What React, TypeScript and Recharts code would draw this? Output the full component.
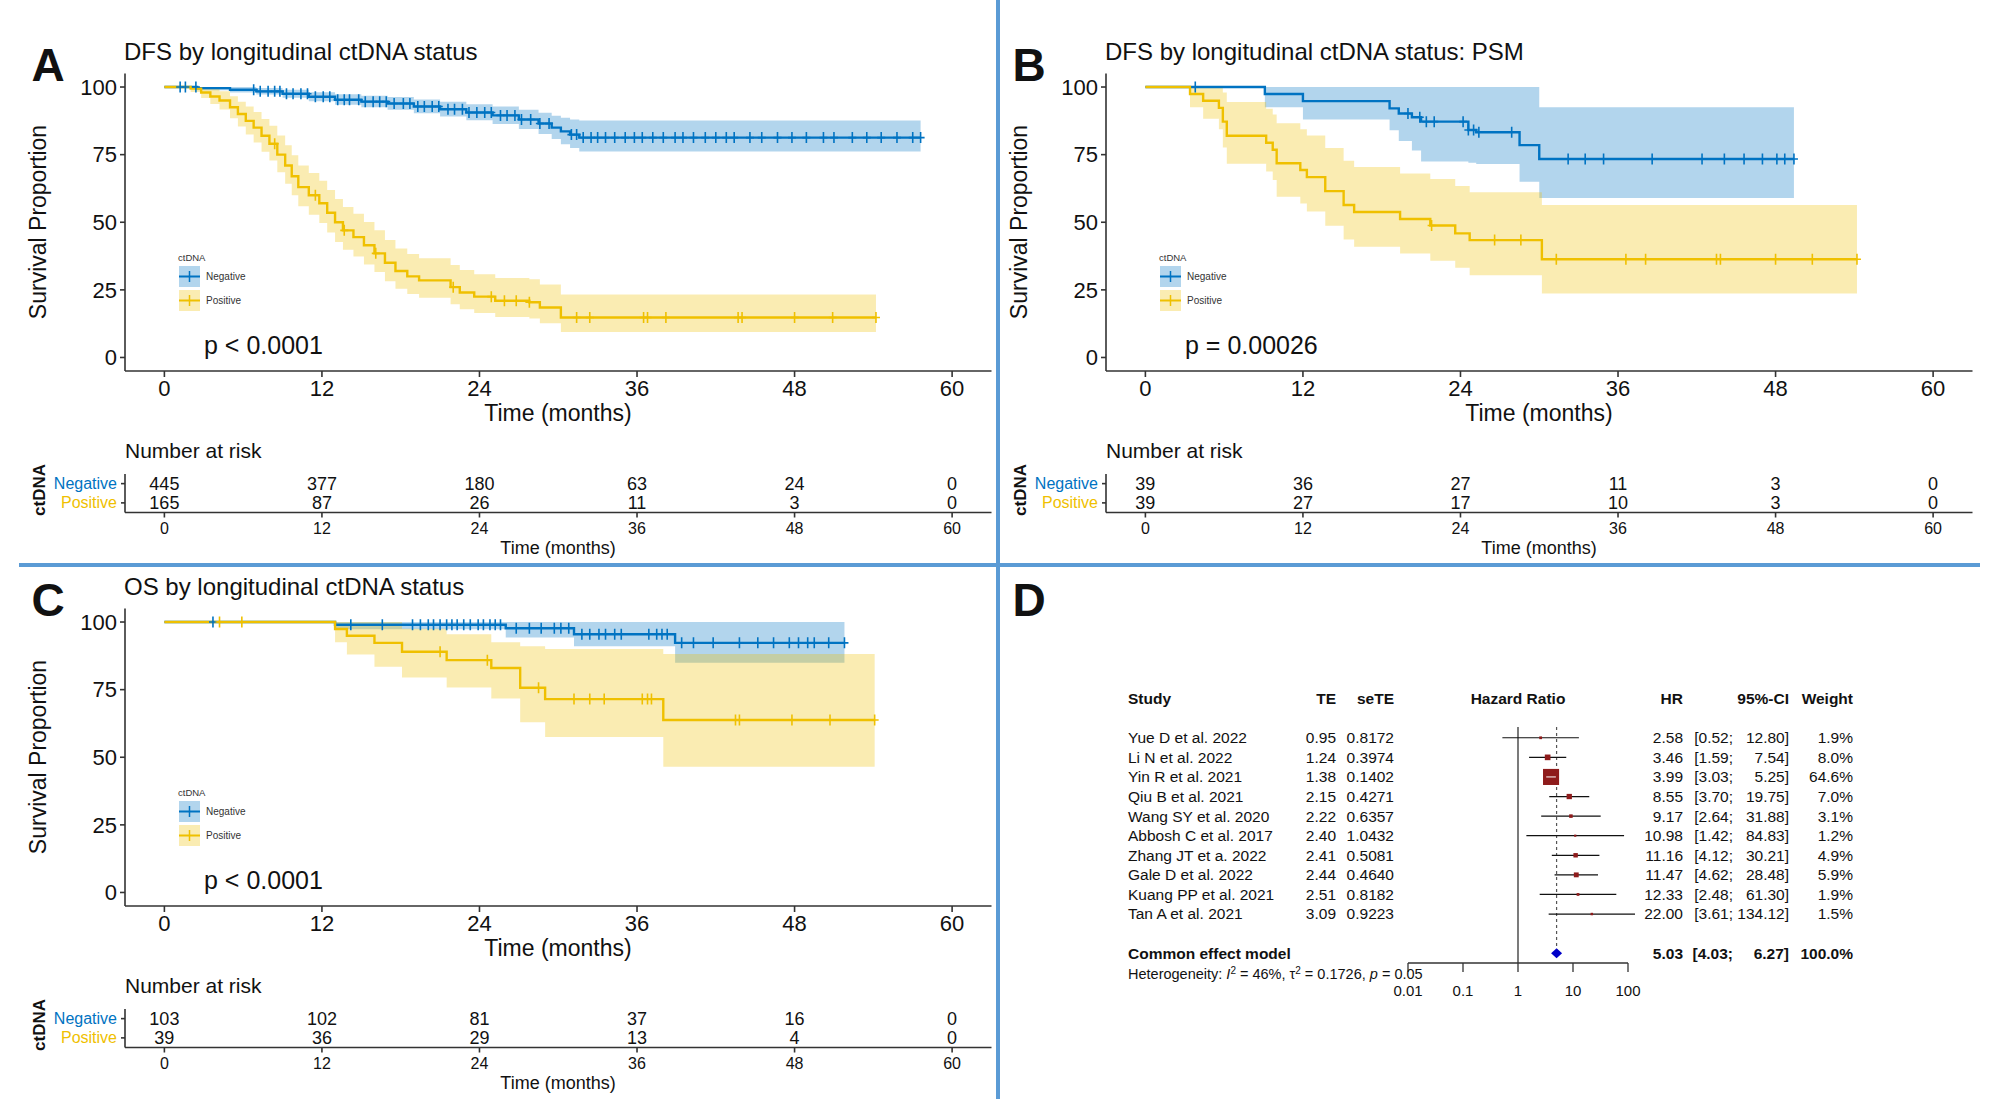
import React from 'react';
import {
  ComposedChart,
  ScatterChart,
  Area,
  Line,
  Scatter,
  XAxis,
  YAxis,
  ErrorBar,
  ReferenceLine
} from 'recharts';

const FONT = "'Liberation Sans', Arial, Helvetica, sans-serif";
const BLUE = '#0073C2';
const YELLOW = '#EFC000';
const AXIS = '#333333';
const INK = '#111111';
const DIVIDER = '#5B9BD5';

const groups = ['Negative', 'Positive'];
const groupColors = [BLUE, YELLOW];
const monthTicks = [0, 12, 24, 36, 48, 60];
const survTicks = [0, 25, 50, 75, 100];

// KM steps: [time, survival %, lower 95%, upper 95%]
const dfsNeg = [
  [0, 100, 100, 100], [2.5, 99.6, 98.8, 100], [5, 99.0, 98.0, 100], [7, 98.4, 97.2, 99.6],
  [9, 97.5, 96.0, 99.0], [11, 96.4, 94.7, 98.1], [13, 95.3, 93.4, 97.3], [15, 94.6, 92.5, 96.8],
  [17, 93.9, 91.6, 96.3], [19, 92.8, 90.3, 95.4], [21, 91.8, 89.1, 94.6], [23, 90.6, 87.7, 93.6],
  [25, 89.5, 86.3, 92.8], [27, 88.0, 84.5, 91.6], [28.5, 86.5, 82.6, 90.5], [29.5, 85.0, 80.8, 89.4],
  [30.2, 83.6, 78.8, 88.6], [30.9, 82.4, 77.5, 88.0], [31.6, 81.3, 76.2, 87.6], [57.6, 81.3, 76.2, 87.6]
];
const dfsPos = [
  [0, 100, 100, 100], [2, 99.4, 98.2, 100], [2.8, 98.0, 95.9, 100], [3.5, 96.5, 93.7, 99.3],
  [4.2, 95.0, 91.7, 98.4], [5.0, 92.5, 88.5, 96.6], [5.6, 90.0, 85.4, 94.6], [6.2, 87.5, 82.4, 92.8],
  [6.8, 85.0, 79.5, 90.8], [7.4, 82.0, 76.1, 88.2], [8.0, 79.0, 72.8, 85.7], [8.6, 75.0, 68.5, 82.1],
  [9.2, 71.0, 64.2, 78.5], [9.7, 67.0, 60.0, 74.8], [10.2, 63.0, 55.9, 71.0], [11.0, 60.0, 52.8, 68.2],
  [11.8, 57.0, 49.7, 65.3], [12.4, 53.5, 46.2, 61.9], [13.0, 50.0, 42.7, 58.6], [13.6, 47.0, 39.8, 55.6],
  [14.4, 44.5, 37.3, 53.1], [15.2, 41.5, 34.4, 50.1], [16.0, 38.5, 31.6, 47.0], [16.8, 35.0, 28.2, 43.4],
  [17.6, 32.0, 25.4, 40.3], [18.5, 30.0, 23.5, 38.3], [19.4, 28.5, 22.1, 36.7], [21.8, 26.0, 19.7, 34.2],
  [22.5, 24.0, 17.8, 32.3], [23.6, 22.5, 16.4, 30.8], [25.2, 21.0, 15.0, 29.4], [27.8, 20.4, 14.4, 28.9],
  [28.6, 18.5, 12.7, 27.0], [30.2, 14.8, 9.4, 23.3], [54.2, 14.8, 9.4, 23.3]
];
const psmNeg = [
  [0, 100, 100, 100], [9.1, 97.4, 92.5, 100], [12.0, 94.8, 88.0, 100], [18.6, 92.1, 84.0, 100],
  [19.3, 90.2, 80.0, 100], [20.3, 88.8, 76.5, 100], [21.0, 87.2, 72.5, 100], [24.6, 84.1, 72.0, 100],
  [25.2, 83.3, 71.5, 100], [28.5, 78.5, 65.0, 100], [30.0, 73.4, 59.0, 92.5], [49.4, 73.4, 59.0, 92.5]
];
const psmPos = [
  [0, 100, 100, 100], [3.4, 97.4, 92.5, 100], [4.4, 94.9, 88.3, 100], [5.6, 92.3, 84.4, 100],
  [5.9, 87.2, 77.6, 98.0], [6.2, 82.0, 71.6, 94.5], [9.2, 79.4, 68.8, 92.0], [9.7, 76.8, 65.6, 89.8],
  [10.0, 71.8, 59.4, 86.6], [11.8, 69.3, 56.9, 84.4], [12.3, 66.7, 54.0, 82.1], [13.7, 61.5, 48.7, 77.5],
  [15.1, 56.4, 43.6, 72.7], [15.9, 53.8, 40.9, 70.4], [19.4, 51.2, 38.4, 68.0], [21.7, 48.8, 35.8, 66.0],
  [23.6, 45.9, 33.2, 63.4], [24.7, 43.4, 30.4, 61.1], [30.2, 36.3, 23.7, 56.4], [54.2, 36.3, 23.7, 56.4]
];
const osNeg = [
  [0, 100, 100, 100], [13.0, 99.0, 97.3, 100], [26.0, 97.7, 94.3, 100], [31.2, 95.5, 91.0, 100],
  [38.9, 92.3, 84.9, 100], [51.8, 92.3, 84.9, 100]
];
const osPos = [
  [0, 100, 100, 100], [13.0, 97.4, 92.5, 100], [13.9, 94.9, 88.0, 100], [16.0, 92.3, 83.5, 100],
  [18.1, 89.0, 79.5, 97.5], [21.5, 85.9, 75.8, 95.5], [24.9, 83.0, 71.7, 92.5], [27.1, 75.7, 62.9, 91.0],
  [29.0, 71.5, 57.5, 90.0], [38.0, 63.8, 46.5, 88.2], [54.1, 63.8, 46.5, 88.2]
];

// censoring times (months)
const dfsNegCens = [1.2, 1.6, 2.4, 6.8, 7.3, 7.9, 8.4, 8.8, 9.3, 9.8, 10.4, 10.9, 11.5, 12.1, 12.6, 13.2, 13.7, 14.1,
  14.8, 15.3, 15.9, 16.4, 16.9, 17.5, 18.2, 18.7, 19.3, 19.8, 20.4, 20.9, 21.6, 22.1, 22.7, 23.2, 23.8, 24.4, 24.9,
  25.6, 26.1, 26.7, 27.2, 27.9, 28.6, 29.3, 31.0, 31.4, 31.9, 32.5, 33.0, 33.6, 34.3, 35.1, 35.8, 36.4, 37.2, 38.0,
  38.9, 39.5, 40.3, 41.2, 42.0, 42.8, 43.4, 44.6, 45.5, 46.7, 47.8, 48.9, 50.2, 51.0, 52.4, 53.5, 54.6, 55.8, 57.0, 57.6];
const dfsPosCens = [8.4, 11.5, 13.7, 16.1, 22.0, 24.9, 25.9, 26.8, 27.8, 31.4, 32.4, 36.5, 36.8, 38.2, 43.7, 44.0, 48.0, 50.9, 54.2];
const psmNegCens = [3.8, 20.0, 20.9, 21.4, 22.0, 24.2, 24.6, 25.0, 25.4, 27.9, 32.2, 33.5, 34.9, 38.6, 42.4, 44.1, 45.6, 47.0, 48.1, 48.7, 49.4];
const psmPosCens = [21.8, 26.6, 28.6, 31.3, 36.6, 38.1, 43.5, 43.8, 48.0, 50.8, 54.2];
const osNegCens = [3.7, 14.2, 16.6, 18.9, 19.5, 20.1, 20.5, 21.0, 21.5, 21.9, 22.3, 22.8, 23.3, 23.9, 24.3, 24.8, 25.2,
  25.6, 26.8, 27.8, 28.7, 29.7, 30.2, 30.8, 31.8, 32.4, 33.1, 33.6, 34.3, 34.8, 36.9, 37.5, 37.9, 38.3, 39.4, 40.3,
  41.8, 43.8, 45.2, 46.4, 47.6, 48.3, 49.0, 49.5, 50.6, 51.8];
const osPosCens = [4.2, 5.9, 21.0, 24.6, 28.5, 31.2, 32.4, 33.5, 36.4, 36.8, 37.1, 43.5, 43.8, 47.8, 50.7, 54.1];

// number at risk at monthTicks
const dfsRisk = [[445, 377, 180, 63, 24, 0], [165, 87, 26, 11, 3, 0]];
const psmRisk = [[39, 36, 27, 11, 3, 0], [39, 27, 17, 10, 3, 0]];
const osRisk = [[103, 102, 81, 37, 16, 0], [39, 36, 29, 13, 4, 0]];

// meta-analysis
const studies = ['Yue D et al. 2022', 'Li N et al. 2022', 'Yin R et al. 2021', 'Qiu B et al. 2021', 'Wang SY et al. 2020',
  'Abbosh C et al. 2017', 'Zhang JT et a. 2022', 'Gale D et al. 2022', 'Kuang PP et al. 2021', 'Tan A et al. 2021'];
const te = [0.95, 1.24, 1.38, 2.15, 2.22, 2.40, 2.41, 2.44, 2.51, 3.09];
const seTE = [0.8172, 0.3974, 0.1402, 0.4271, 0.6357, 1.0432, 0.5081, 0.4640, 0.8182, 0.9223];
const hr = [2.58, 3.46, 3.99, 8.55, 9.17, 10.98, 11.16, 11.47, 12.33, 22.00];
const ciLow = [0.52, 1.59, 3.03, 3.70, 2.64, 1.42, 4.12, 4.62, 2.48, 3.61];
const ciHigh = [12.80, 7.54, 5.25, 19.75, 31.88, 84.83, 30.21, 28.48, 61.30, 134.12];
const weight = [1.9, 8.0, 64.6, 7.0, 3.1, 1.2, 4.9, 5.9, 1.9, 1.5];
const pooled = { label: 'Common effect model', hr: 5.03, lo: 4.03, hi: 6.27, w: 100.0 };
const hrTicks = [0.01, 0.1, 1, 10, 100];
const pooledRow = studies.length + 1;

type Step = number[];
const toSteps = (rows: Step[]) => rows.map(([t, s, lo, hi]) => ({ t, s, band: [lo, hi] }));
const survAt = (rows: Step[], t: number) => {
  let s = rows[0][1];
  rows.forEach((r) => { if (r[0] <= t) s = r[1]; });
  return s;
};
const toCensors = (rows: Step[], times: number[]) => times.map((t) => ({ t, s: survAt(rows, t) }));

const censorMark = (color: string) => (props: any) => {
  const { cx, cy } = props;
  if (cx == null || cy == null) return <g />;
  return <path d={`M${cx - 4},${cy}h8M${cx},${cy - 5.5}v11`} stroke={color} strokeWidth={1.6} fill="none" />;
};

function KmChart({ curves, censors }: { curves: Step[][]; censors: number[][] }) {
  return (
    <ComposedChart width={998} height={420} margin={{ top: 73.5, right: 6.5, bottom: 19, left: 60 }}>
      <XAxis type="number" dataKey="t" domain={[-3, 63]} ticks={monthTicks} allowDataOverflow height={30} interval={0}
        stroke={AXIS} strokeWidth={1.6} tickSize={6} tickMargin={3.5} tick={{ fontSize: 22, fill: INK }} />
      <YAxis type="number" domain={[-5, 105]} ticks={survTicks} allowDataOverflow width={65} interval={0}
        stroke={AXIS} strokeWidth={1.6} tickSize={5} tickMargin={3} tick={{ fontSize: 22, fill: INK }} />
      {curves.map((rows, i) => (
        <Area key={'band' + i} data={toSteps(rows)} dataKey="band" type="stepAfter" stroke="none"
          fill={groupColors[i]} fillOpacity={0.3} isAnimationActive={false} />
      ))}
      {curves.map((rows, i) => (
        <Line key={'line' + i} data={toSteps(rows)} dataKey="s" type="stepAfter" stroke={groupColors[i]}
          strokeWidth={2.4} dot={false} isAnimationActive={false} />
      ))}
      {curves.map((rows, i) => (
        <Scatter key={'cens' + i} data={toCensors(rows, censors[i])} dataKey="s"
          shape={censorMark(groupColors[i])} isAnimationActive={false} />
      ))}
    </ComposedChart>
  );
}

const GroupTick = (props: any) => {
  const gi = groups.length - 1 - props.payload.value;
  return (
    <text x={props.x} y={props.y} dy="0.35em" textAnchor="end" fontSize={16} fill={groupColors[gi]}>
      {groups[gi]}
    </text>
  );
};

const riskNumber = (props: any) => (
  <text x={props.cx} y={props.cy} dy="0.35em" textAnchor="middle" fontSize={18} fill={INK}>
    {props.payload.n}
  </text>
);

function RiskTable({ counts }: { counts: number[][] }) {
  const pts = counts.flatMap((row, gi) =>
    row.map((n, i) => ({ t: monthTicks[i], row: groups.length - 1 - gi, n })));
  return (
    <ScatterChart width={998} height={120} margin={{ top: 34, right: 6.5, bottom: 22.5, left: 0 }}>
      <XAxis type="number" dataKey="t" domain={[-3, 63]} ticks={monthTicks} allowDataOverflow height={25} interval={0}
        stroke={AXIS} strokeWidth={1.6} tickSize={5} tickMargin={5} tick={{ fontSize: 16, fill: INK }} />
      <YAxis type="number" dataKey="row" domain={[-0.5, 1.5]} ticks={[0, 1]} allowDataOverflow width={125} interval={0}
        stroke={AXIS} strokeWidth={1.6} tickSize={4} tickMargin={4} tick={<GroupTick />} />
      <Scatter data={pts} shape={riskNumber} isAnimationActive={false} />
    </ScatterChart>
  );
}

// forest plot columns, x relative to the forest chart's left edge (1100)
const COL = { study: 28, te: 236, se: 294, hr: 583, lo: 633, hi: 689, w: 753 };

const ForestRowTick = (props: any) => {
  const r = props.payload.value;
  const y = props.y;
  const isPooled = r === pooledRow;
  const fmt = (v: number) => v.toFixed(2);
  const cells = isPooled
    ? { name: pooled.label, te: '', se: '', h: fmt(pooled.hr), lo: `[${fmt(pooled.lo)};`, hi: `${fmt(pooled.hi)}]`, w: `${pooled.w.toFixed(1)}%` }
    : {
      name: studies[r], te: fmt(te[r]), se: seTE[r].toFixed(4), h: fmt(hr[r]),
      lo: `[${fmt(ciLow[r])};`, hi: `${fmt(ciHigh[r])}]`, w: `${weight[r].toFixed(1)}%`
    };
  return (
    <g fontSize={15.5} fill={INK} fontWeight={isPooled ? 'bold' : 'normal'}>
      <text x={COL.study} y={y} dy="0.35em">{cells.name}</text>
      <text x={COL.te} y={y} dy="0.35em" textAnchor="end">{cells.te}</text>
      <text x={COL.se} y={y} dy="0.35em" textAnchor="end">{cells.se}</text>
      <text x={COL.hr} y={y} dy="0.35em" textAnchor="end">{cells.h}</text>
      <text x={COL.lo} y={y} dy="0.35em" textAnchor="end">{cells.lo}</text>
      <text x={COL.hi} y={y} dy="0.35em" textAnchor="end">{cells.hi}</text>
      <text x={COL.w} y={y} dy="0.35em" textAnchor="end">{cells.w}</text>
    </g>
  );
};

const weightSquare = (props: any) => {
  const { cx, cy, payload } = props;
  const side = 2 * Math.sqrt(payload.w);
  return (
    <g>
      <rect x={cx - side / 2} y={cy - side / 2} width={side} height={side} fill="#8E1B1B" />
      {side > 12 && <line x1={cx - side * 0.3} x2={cx + side * 0.3} y1={cy} y2={cy} stroke="#fff" strokeWidth={1} />}
    </g>
  );
};

const diamond = (props: any) => {
  const { cx, cy } = props;
  return <polygon points={`${cx - 5.5},${cy} ${cx},${cy - 5} ${cx + 5.5},${cy} ${cx},${cy + 5}`} fill="#0000C8" />;
};

function ForestPlot() {
  const rows = studies.map((s, i) => ({ row: i, hr: hr[i], err: [hr[i] - ciLow[i], ciHigh[i] - hr[i]], w: weight[i] }));
  const pooledData = [{ row: pooledRow, hr: pooled.hr }];
  return (
    <ScatterChart width={800} height={320} margin={{ top: 37, right: 272, bottom: 17, left: 0 }}>
      <XAxis type="number" dataKey="hr" scale="log" domain={[0.01, 100]} ticks={hrTicks} allowDataOverflow height={30}
        interval={0} stroke={AXIS} strokeWidth={1.3} tickSize={9} tickMargin={13} tick={{ fontSize: 15, fill: INK }}
        tickFormatter={(v: number) => String(v)} />
      <YAxis type="number" dataKey="row" domain={[-0.55, 11.5]} reversed allowDataOverflow width={308} interval={0}
        ticks={[...studies.map((s, i) => i), pooledRow]} axisLine={false} tickLine={false} tick={<ForestRowTick />} />
      <ReferenceLine x={1} stroke={AXIS} strokeWidth={1.3} />
      <ReferenceLine segment={[{ x: pooled.hr, y: -0.55 }, { x: pooled.hr, y: pooledRow }]} stroke="#555"
        strokeWidth={1.2} strokeDasharray="3 3" />
      <Scatter data={rows} shape={weightSquare} isAnimationActive={false}>
        <ErrorBar dataKey="err" direction="x" width={0} stroke="#111" strokeWidth={1.2} />
      </Scatter>
      <Scatter data={pooledData} shape={diamond} isAnimationActive={false} />
    </ScatterChart>
  );
}

function LegendKey({ y, color, label }: { y: number; color: string; label: string }) {
  return (
    <g>
      <rect x={179} y={y} width={21} height={21} fill={color} fillOpacity={0.3} />
      <line x1={179} x2={200} y1={y + 10.5} y2={y + 10.5} stroke={color} strokeWidth={2} />
      <line x1={189.5} x2={189.5} y1={y + 5} y2={y + 16} stroke={color} strokeWidth={1.5} />
      <text x={206} y={y + 14} fontSize={10} fill="#333">{label}</text>
    </g>
  );
}

function PanelText({ dx, dy, letter, title, p }: { dx: number; dy: number; letter: string; title: string; p: string }) {
  return (
    <g transform={`translate(${dx},${dy})`} fill={INK}>
      <text x={48} y={81} fontSize={46} fontWeight="bold" textAnchor="middle">{letter}</text>
      <text x={124} y={60} fontSize={24}>{title}</text>
      <text transform="translate(46,222) rotate(-90)" textAnchor="middle" fontSize={23}>Survival Proportion</text>
      <text x={558} y={421} fontSize={23} textAnchor="middle">Time (months)</text>
      <text x={204} y={354} fontSize={25}>{p}</text>
      <text x={178} y={261} fontSize={9.5} fill="#333">ctDNA</text>
      <LegendKey y={266} color={BLUE} label={groups[0]} />
      <LegendKey y={290} color={YELLOW} label={groups[1]} />
      <text x={125} y={458} fontSize={21}>Number at risk</text>
      <text transform="translate(45,490) rotate(-90)" textAnchor="middle" fontSize={17} fontWeight="bold">ctDNA</text>
      <text x={558} y={554} fontSize={18} textAnchor="middle">Time (months)</text>
    </g>
  );
}

export default function App() {
  return (
    <div style={{ position: 'absolute', left: 0, top: 0, width: 1999, height: 1109, background: '#fff', fontFamily: FONT, overflow: 'hidden' }}>
      <div style={{ position: 'absolute', left: 0, top: 0 }}>
        <KmChart curves={[dfsNeg, dfsPos]} censors={[dfsNegCens, dfsPosCens]} />
      </div>
      <div style={{ position: 'absolute', left: 0, top: 440 }}>
        <RiskTable counts={dfsRisk} />
      </div>
      <div style={{ position: 'absolute', left: 981, top: 0 }}>
        <KmChart curves={[psmNeg, psmPos]} censors={[psmNegCens, psmPosCens]} />
      </div>
      <div style={{ position: 'absolute', left: 981, top: 440 }}>
        <RiskTable counts={psmRisk} />
      </div>
      <div style={{ position: 'absolute', left: 0, top: 535 }}>
        <KmChart curves={[osNeg, osPos]} censors={[osNegCens, osPosCens]} />
      </div>
      <div style={{ position: 'absolute', left: 0, top: 975 }}>
        <RiskTable counts={osRisk} />
      </div>
      <div style={{ position: 'absolute', left: 1100, top: 690 }}>
        <ForestPlot />
      </div>
      <svg width={1999} height={1109} style={{ position: 'absolute', left: 0, top: 0, pointerEvents: 'none' }}>
        <PanelText dx={0} dy={0} letter="A" title="DFS by longitudinal ctDNA status" p="p < 0.0001" />
        <PanelText dx={981} dy={0} letter="B" title="DFS by longitudinal ctDNA status: PSM" p="p = 0.00026" />
        <PanelText dx={0} dy={535} letter="C" title="OS by longitudinal ctDNA status" p="p < 0.0001" />
        <text x={1029} y={616} fontSize={46} fontWeight="bold" textAnchor="middle" fill={INK}>D</text>
        <g fontSize={15.5} fontWeight="bold" fill={INK}>
          <text x={1128} y={704}>Study</text>
          <text x={1336} y={704} textAnchor="end">TE</text>
          <text x={1394} y={704} textAnchor="end">seTE</text>
          <text x={1518} y={704} textAnchor="middle">Hazard Ratio</text>
          <text x={1683} y={704} textAnchor="end">HR</text>
          <text x={1789} y={704} textAnchor="end">95%-CI</text>
          <text x={1853} y={704} textAnchor="end">Weight</text>
        </g>
        <text x={1128} y={979} fontSize={14.5} fill={INK}>
          Heterogeneity: <tspan fontStyle="italic">I</tspan><tspan dy={-5} fontSize={10}>2</tspan>
          <tspan dy={5}> = 46%, τ</tspan><tspan dy={-5} fontSize={10}>2</tspan>
          <tspan dy={5}> = 0.1726, </tspan><tspan fontStyle="italic">p</tspan> = 0.05
        </text>
        <line x1={998} x2={998} y1={0} y2={1099} stroke={DIVIDER} strokeWidth={4} />
        <line x1={19} x2={1980} y1={565} y2={565} stroke={DIVIDER} strokeWidth={4} />
      </svg>
    </div>
  );
}
